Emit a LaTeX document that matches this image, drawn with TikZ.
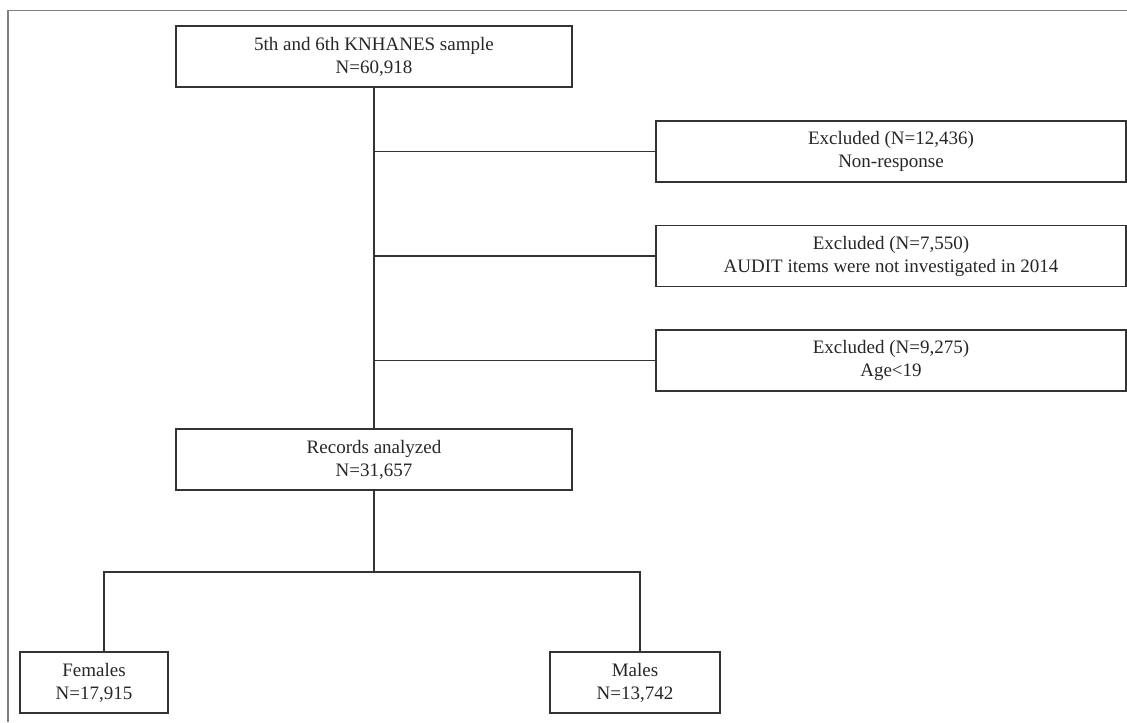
\documentclass[tikz,border=0pt]{standalone}
\usepackage{fontspec}
\setmainfont{Liberation Serif}
\usetikzlibrary{positioning}

\begin{document}
\begin{tikzpicture}[x=0.5pt, y=-0.5pt,
	box/.style={draw=black!80, line width=0.6pt, align=center, inner sep=0pt, minimum height=30.5pt, font=\fontsize{9.5}{11.5}\selectfont, text=black!85},
	wide/.style={box, minimum width=198pt},
	excl/.style={box, minimum width=235pt},
	line/.style={draw=black!80, line width=0.6pt}]
	\useasboundingbox (0,0) rectangle (1127,722);
	\draw[black!50, line width=0.7pt] (8,722) -- (8,10.5) -- (1127,10.5);
	\node[wide](smp) at (374,56.5){5th and 6th KNHANES sample\\N=60,918};
	\node[wide](rec) at (374,459.5){Records analyzed\\N=31,657};
	\node[excl](ex1) at (891,151.5){Excluded (N=12,436)\\Non-response};
	\node[excl](ex2) at (891,256){Excluded (N=7,550)\\AUDIT items were not investigated in 2014};
	\node[excl](ex3) at (891,360.5){Excluded (N=9,275)\\Age<19};
	\node[box, minimum width=74pt](fem) at (94,682.5){Females\\N=17,915};
	\node[box, minimum width=85pt](mal) at (635,682.5){Males\\N=13,742};
	\draw[line] (smp.south) -- (rec.north);
	\draw[line] (smp.south |- ex1.west) -- (ex1.west);
	\draw[line] (smp.south |- ex2.west) -- (ex2.west);
	\draw[line] (smp.south |- ex3.west) -- (ex3.west);
	\coordinate (lsplit) at (104,572);
	\coordinate (rsplit) at (640,572);
	\draw[line] (rec.south) -- (rec.south |- lsplit);
	\draw[line] (fem.north -| lsplit) -- (lsplit) -- (rsplit) -- (mal.north -| rsplit);
\end{tikzpicture}
\end{document}
